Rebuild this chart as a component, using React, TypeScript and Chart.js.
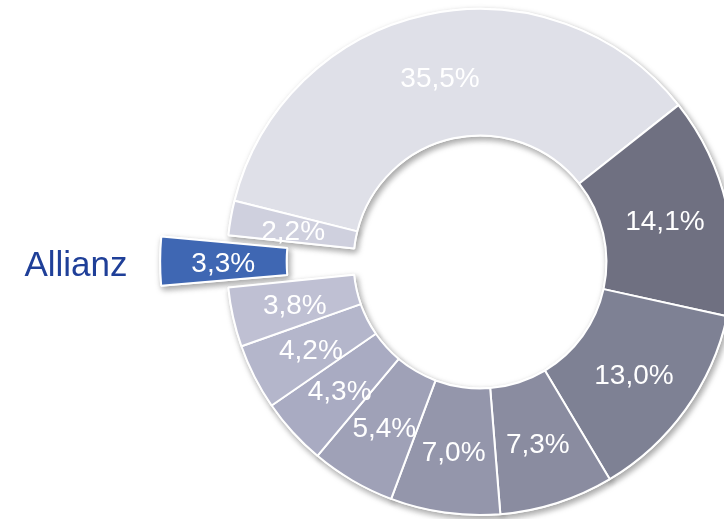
import React, { useEffect, useRef } from "react";
import { Chart, registerables } from "chart.js";

Chart.register(...registerables);

// ---- data ----
const categories = [
  "Andere",
  "Anbieter B",
  "Anbieter C",
  "Anbieter D",
  "Anbieter E",
  "Anbieter F",
  "Anbieter G",
  "Anbieter H",
  "Anbieter I",
  "Allianz",
  "Anbieter K",
];
const shares = [35.5, 14.1, 13.0, 7.3, 7.0, 5.4, 4.3, 4.2, 3.8, 3.3, 2.2];
const valueLabels = shares.map((v) => v.toFixed(1).replace(".", ",") + "%");
const sliceColors = [
  "#dfe0e8",
  "#6f7081",
  "#7e8194",
  "#8a8ca0",
  "#9496ab",
  "#9fa1b7",
  "#a9abc2",
  "#b4b6cb",
  "#bfc0d3",
  "#3f67b3",
  "#cfd0de",
];
const highlightIndex = 9;
const highlightName = "Allianz";
const explodeOffsets = shares.map((_, i) => (i === highlightIndex ? 149 : 0));

const CANVAS_W = 960;
const CANVAS_H = 560;

export default function App() {
  const ref = useRef<HTMLCanvasElement | null>(null);

  useEffect(() => {
    const canvas = ref.current;
    if (!canvas) return;

    const shadowPlugin = {
      id: "shadowPass",
      beforeDatasetsDraw(chart: any) {
        const ctx = chart.ctx;
        const meta = chart.getDatasetMeta(0);
        ctx.save();
        ctx.shadowColor = "rgba(0,0,0,0.35)";
        ctx.shadowBlur = 6;
        ctx.shadowOffsetX = 2;
        ctx.shadowOffsetY = 3;
        meta.data.forEach((el: any) => el.draw(ctx));
        ctx.restore();
      },
    };

    const labelPlugin = {
      id: "sliceLabels",
      afterDatasetsDraw(chart: any) {
        const ctx = chart.ctx;
        const meta = chart.getDatasetMeta(0);
        ctx.save();
        ctx.textAlign = "center";
        ctx.textBaseline = "middle";
        ctx.fillStyle = "#ffffff";
        ctx.font = '28px "Liberation Sans", Arial, sans-serif';
        let hlY = 0;
        meta.data.forEach((el: any, i: number) => {
          const { x, y, startAngle, endAngle, innerRadius, outerRadius } = el;
          const mid = (startAngle + endAngle) / 2;
          let r = (innerRadius + outerRadius) / 2;
          if (i === highlightIndex) r += 67;
          const px = x + Math.cos(mid) * r;
          const py = y + Math.sin(mid) * r + 3;
          ctx.fillText(valueLabels[i], px, py);
          if (i === highlightIndex) hlY = py;
        });
        ctx.fillStyle = "#1f3f98";
        ctx.font = '35px "Liberation Sans", Arial, sans-serif';
        ctx.fillText(highlightName, 76, hlY + 2);
        ctx.restore();
      },
    };

    const chart = new Chart(canvas, {
      type: "doughnut",
      data: {
        labels: categories,
        datasets: [
          {
            data: shares,
            backgroundColor: sliceColors,
            borderColor: "#ffffff",
            borderWidth: 2,
            offset: explodeOffsets,
          },
        ],
      },
      options: {
        responsive: false,
        animation: false,
        radius: 253,
        cutout: "50%",
        rotation: -76,
        layout: { padding: 0 },
        plugins: {
          legend: { display: false },
          tooltip: { enabled: false },
        },
      },
      plugins: [shadowPlugin, labelPlugin],
    } as any);

    return () => chart.destroy();
  }, []);

  return (
    <div
      style={{
        position: "fixed",
        left: 0,
        top: 0,
        width: 724,
        height: 519,
        overflow: "hidden",
        background: "#ffffff",
      }}
    >
      <canvas
        ref={ref}
        width={CANVAS_W}
        height={CANVAS_H}
        style={{
          position: "absolute",
          left: 0,
          top: -18,
          width: CANVAS_W,
          height: CANVAS_H,
        }}
      />
    </div>
  );
}
